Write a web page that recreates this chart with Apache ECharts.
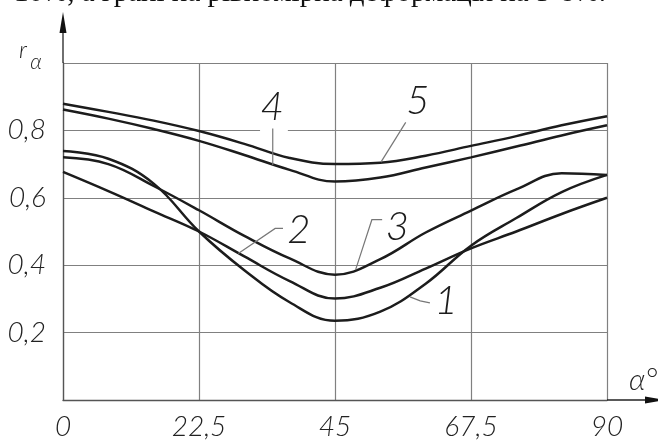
<!DOCTYPE html>
<html>
<head>
<meta charset="utf-8">
<script src="https://cdn.jsdelivr.net/npm/echarts@6/dist/echarts.min.js"></script>
<style>
  html, body { margin: 0; padding: 0; background: #fff; }
  #chart { width: 658px; height: 441px; }
</style>
</head>
<body>
<div id="chart"></div>
<script>
// кут α, градуси
const angles = [0, 7.5, 15, 22.5, 30, 37.5, 45, 52.5, 60, 67.5, 75, 82.5, 90];
// коефіцієнт r_α для кривих 1..5
const curve1 = [0.739, 0.716, 0.642, 0.500, 0.385, 0.290, 0.235, 0.262, 0.345, 0.458, 0.540, 0.617, 0.668];
const curve2 = [0.677, 0.620, 0.560, 0.500, 0.426, 0.353, 0.301, 0.333, 0.390, 0.450, 0.500, 0.552, 0.600];
const curve3 = [0.720, 0.700, 0.635, 0.563, 0.487, 0.420, 0.372, 0.418, 0.497, 0.562, 0.625, 0.673, 0.668];
const curve4 = [0.862, 0.835, 0.804, 0.769, 0.727, 0.683, 0.648, 0.660, 0.690, 0.720, 0.752, 0.785, 0.815];
const curve5 = [0.879, 0.855, 0.829, 0.798, 0.760, 0.718, 0.700, 0.704, 0.725, 0.754, 0.783, 0.815, 0.842];
const curveNames = ["1", "2", "3", "4", "5"];
const xTicks = [0, 22.5, 45, 67.5, 90];
const yTicks = [0.2, 0.4, 0.6, 0.8];
const headText = "10%, а грані на рівномірна деформація на 5-8%.";

// номери кривих і виноски (в координатах даних)
const labelAt = {
  "1": [63.4, 0.294], "2": [39.0, 0.503], "3": [55.3, 0.512],
  "4": [34.6, 0.868], "5": [58.7, 0.888]
};
const leaders = {
  "1": [[60.7, 0.288], [59.1, 0.294], [57.4, 0.306]],
  "2": [[36.4, 0.509], [35.1, 0.509], [29.0, 0.435]],
  "3": [[52.8, 0.535], [51.1, 0.535], [48.4, 0.386]],
  "4": [[34.7, 0.806], [34.7, 0.697]],
  "5": [[56.7, 0.824], [52.6, 0.706]]
};

const curves = [curve1, curve2, curve3, curve4, curve5];
const sansFam = "Lato, 'Open Sans', 'DejaVu Sans', sans-serif";
const numFont = "italic 300 40px " + sansFam;

const myChart = echarts.init(document.getElementById("chart"));
myChart.setOption({
  animation: false,
  backgroundColor: "#fff",
  grid: { left: 63, right: 51, top: 63, bottom: 38 },
  xAxis: {
    type: "value",
    min: 0, max: 90, interval: 22.5,
    axisLine: { show: true, lineStyle: { color: "#555", width: 1.3 } },
    axisTick: { show: false },
    splitLine: { show: true, lineStyle: { color: "#808080", width: 1.2 } },
    axisLabel: {
      margin: 13,
      color: "#222",
      fontFamily: sansFam,
      fontStyle: "italic",
      fontWeight: 300,
      fontSize: 28,
      formatter: (v) => (xTicks.includes(v) ? String(v).replace(".", ",") : "")
    }
  },
  yAxis: {
    type: "value",
    min: 0, max: 1, interval: 0.2,
    axisLine: { show: true, lineStyle: { color: "#555", width: 1.3 } },
    axisTick: { show: false },
    splitLine: { show: true, lineStyle: { color: "#808080", width: 1.2 } },
    axisLabel: {
      margin: 17,
      color: "#222",
      fontFamily: sansFam,
      fontStyle: "italic",
      fontWeight: 300,
      fontSize: 28,
      padding: [12, 0, 0, 0],
      formatter: (v) => {
        const r = Math.round(v * 10) / 10;
        return yTicks.includes(r) ? r.toFixed(1).replace(".", ",") : "";
      }
    }
  },
  series: curves.map((c, i) => ({
    name: curveNames[i],
    type: "line",
    smooth: 0.4,
    symbol: "none",
    z: 3,
    lineStyle: { color: "#1c1c1c", width: 2.5 },
    data: angles.map((a, k) => [a, c[k]])
  }))
});

// підписи, виноски, стрілки осей
function px(p) {
  return myChart.convertToPixel({ gridIndex: 0 }, p);
}
const g = [];
const pO = px([0, 0]);
const pTop = px([0, 1]);
const pRight = px([90, 0]);

// стрілка осі r
g.push({ type: "line", z: 5, shape: { x1: pO[0], y1: pTop[1], x2: pO[0], y2: 30 },
  style: { stroke: "#222", lineWidth: 1.3 } });
g.push({ type: "polygon", z: 5, shape: { points: [[pO[0], 12], [pO[0] - 3.5, 33], [pO[0] + 3.5, 33]] },
  style: { fill: "#111" } });
// стрілка осі α
g.push({ type: "line", z: 5, shape: { x1: pRight[0], y1: pO[1], x2: 648, y2: pO[1] },
  style: { stroke: "#222", lineWidth: 1.3 } });
g.push({ type: "polygon", z: 5, shape: { points: [[666, pO[1]], [645, pO[1] - 3.5], [645, pO[1] + 3.5]] },
  style: { fill: "#111" } });

// назви осей
g.push({ type: "text", z: 5, style: { text: "r", x: 23, y: 50, font: "italic 300 24px " + sansFam,
  fill: "#222", textAlign: "center", textVerticalAlign: "middle" } });
g.push({ type: "text", z: 5, style: { text: "α", x: 36, y: 62, font: "italic 300 21px " + sansFam,
  fill: "#222", textAlign: "center", textVerticalAlign: "middle" } });
g.push({ type: "text", z: 5, style: { text: "α°", x: 629, y: 380, font: "italic 300 30px " + sansFam,
  fill: "#222", textAlign: "left", textVerticalAlign: "middle" } });

// розрив лінії сітки біля «4»
const gapA = px([32.6, 0.8]);
const gapB = px([37.2, 0.8]);
g.push({ type: "rect", z: 2, shape: { x: gapA[0], y: gapA[1] - 3, width: gapB[0] - gapA[0], height: 6 },
  style: { fill: "#fff" } });

curveNames.forEach((n) => {
  const pts = leaders[n].map(px);
  g.push({ type: "polyline", z: 4, shape: { points: pts },
    style: { stroke: "#777", lineWidth: 1.2, fill: null } });
  const p = px(labelAt[n]);
  g.push({ type: "text", z: 5, style: { text: n, x: p[0], y: p[1], font: numFont,
    fill: "#1c1c1c", textAlign: "center", textVerticalAlign: "middle" } });
});

// обрізаний рядок тексту над рисунком
g.push({ type: "text", z: 5, style: { text: headText, x: 606, y: 8,
  font: "29px 'Liberation Serif', 'DejaVu Serif'", fill: "#111",
  textAlign: "right", textVerticalAlign: "bottom" } });

myChart.setOption({ graphic: { elements: g } });
</script>
</body>
</html>
